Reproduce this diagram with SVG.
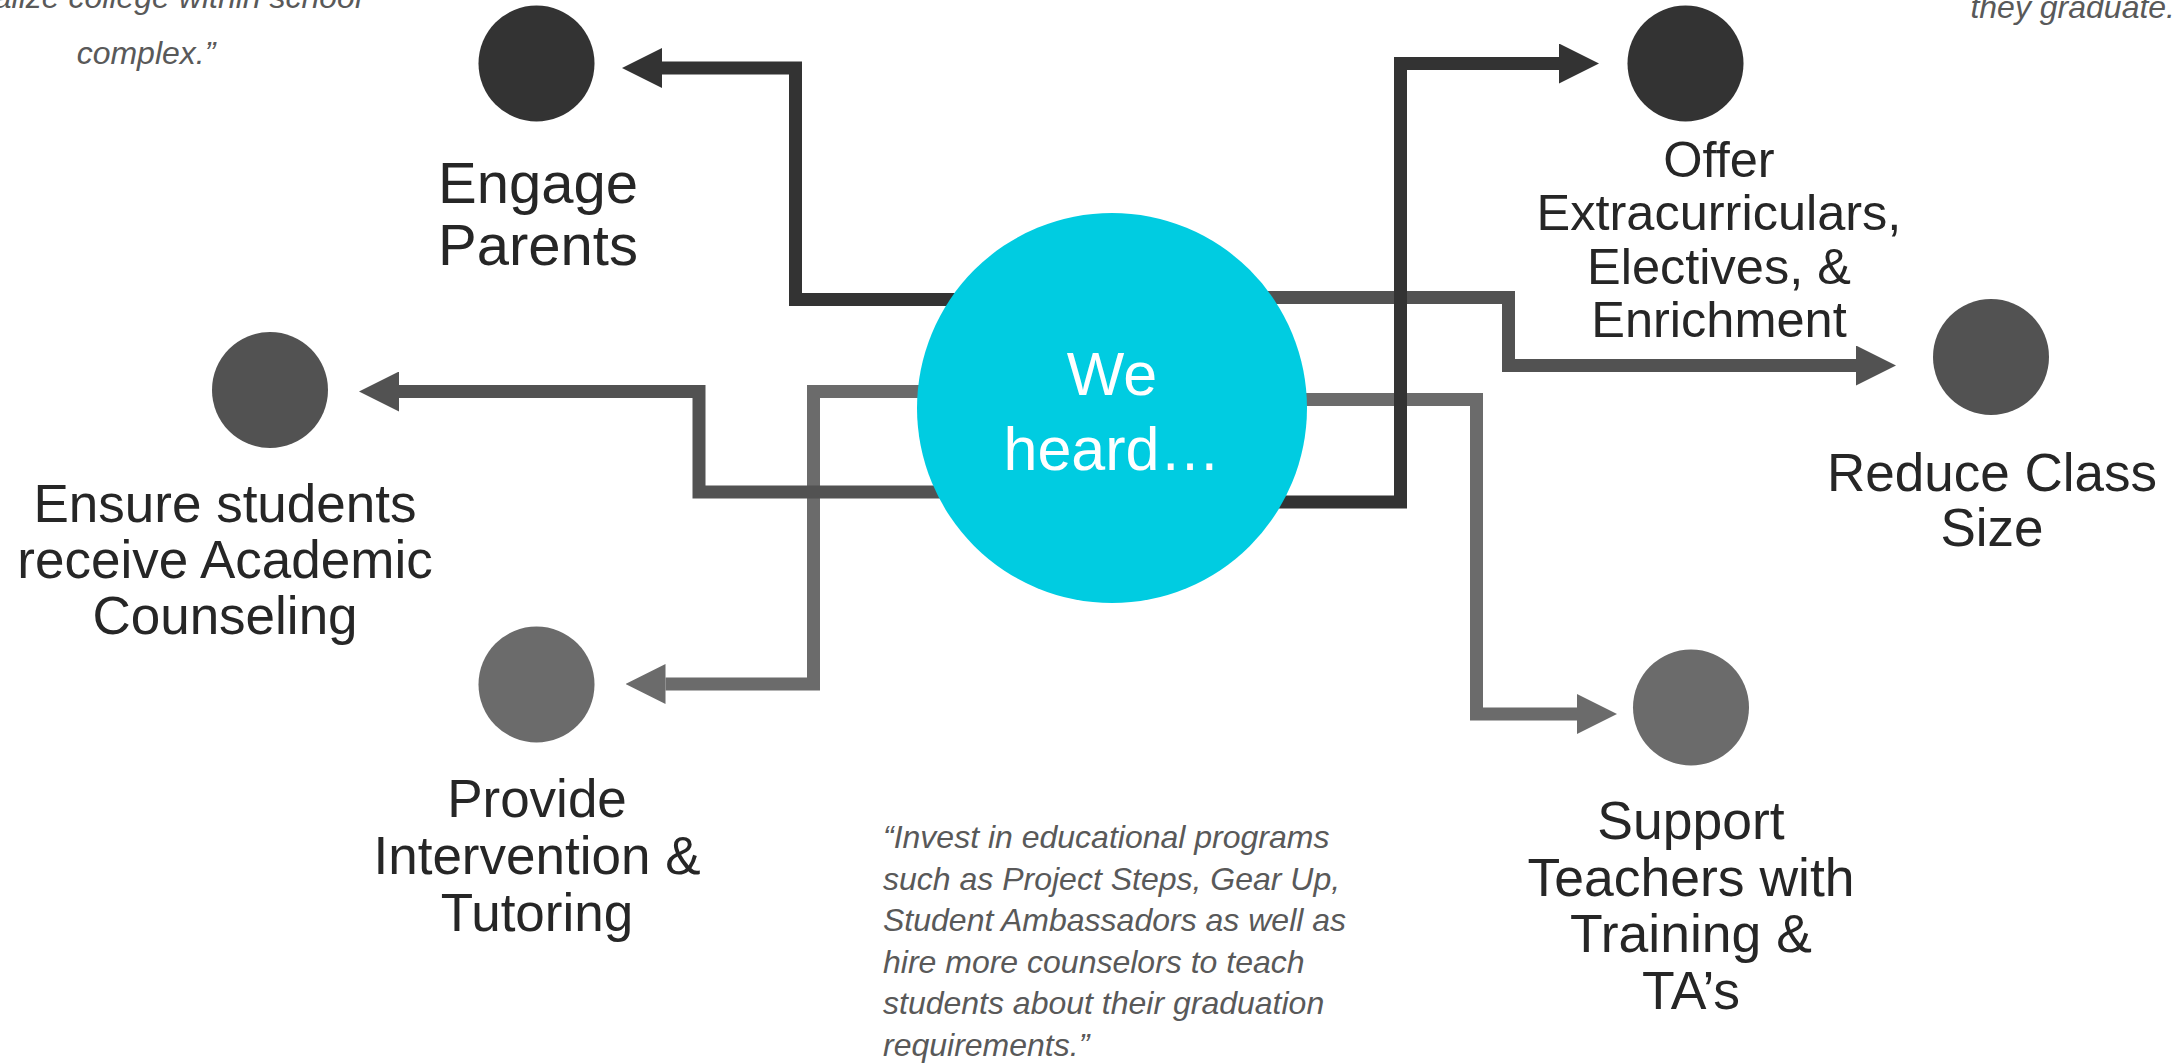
<svg xmlns="http://www.w3.org/2000/svg" width="2180" height="1064" viewBox="0 0 2180 1064">
<style>
.bg{fill:#ffffff}
.c1{fill:#333333}.c2{fill:#525252}.c3{fill:#6b6b6b}
.ln{fill:none;stroke-width:13;stroke-linejoin:miter;stroke-linecap:butt}
.s1{stroke:#333333}.s2{stroke:#525252}.s3{stroke:#6b6b6b}
.lbl{font-family:"Liberation Sans",Arial,sans-serif;fill:#262626;text-anchor:middle}
.q{font-family:"Liberation Sans",Arial,sans-serif;font-style:italic;font-size:32px;fill:#595959}
.hub{fill:#00CCE1}
.hubt{font-family:"Liberation Sans",Arial,sans-serif;font-size:61px;fill:#ffffff;text-anchor:middle}
</style>
<defs>
<marker id="a1" markerUnits="userSpaceOnUse" markerWidth="40" markerHeight="40" refX="0" refY="20" orient="auto"><path d="M0,0 L40,20 L0,40 Z" fill="#333333"/></marker>
<marker id="a2" markerUnits="userSpaceOnUse" markerWidth="40" markerHeight="40" refX="0" refY="20" orient="auto"><path d="M0,0 L40,20 L0,40 Z" fill="#525252"/></marker>
<marker id="a3" markerUnits="userSpaceOnUse" markerWidth="40" markerHeight="40" refX="0" refY="20" orient="auto"><path d="M0,0 L40,20 L0,40 Z" fill="#6b6b6b"/></marker>
</defs>
<rect class="bg" x="0" y="0" width="2180" height="1064"/>

<g id="quote-top-left">
<text class="q" x="362" y="8" text-anchor="end">alize college within school</text>
<text class="q" x="146" y="64" text-anchor="middle">complex.”</text>
</g>
<g id="quote-top-right">
<text class="q" x="2175" y="18" text-anchor="end">they graduate.</text>
</g>

<g id="connectors">
<path id="e-provide" class="ln s3" d="M1000,391.5 H813.5 V684 H665.5" marker-end="url(#a3)"/>
<path id="e-support" class="ln s3" d="M1200,399.5 H1476.5 V714 H1577" marker-end="url(#a3)"/>
<path id="e-reduce" class="ln s2" d="M1200,297.5 H1508.5 V365.5 H1856" marker-end="url(#a2)"/>
<path id="e-ensure" class="ln s2" d="M1000,492 H699 V391.5 H399" marker-end="url(#a2)"/>
<path id="e-engage" class="ln s1" d="M1000,299.5 H795.5 V68 H662" marker-end="url(#a1)"/>
<path id="e-offer" class="ln s1" d="M1200,502 H1400.5 V63.5 H1559" marker-end="url(#a1)"/>
</g>

<g id="hub">
<circle class="hub" cx="1112" cy="408" r="195"/>
<text class="hubt" x="1112" y="395">We</text>
<text class="hubt" x="1112" y="470">heard…</text>
</g>

<g id="node-engage">
<circle class="c1" cx="536.5" cy="63.5" r="58"/>
<text class="lbl" font-size="58" x="538" y="203">Engage</text>
<text class="lbl" font-size="58" x="538" y="265">Parents</text>
</g>

<g id="node-offer">
<circle class="c1" cx="1685.5" cy="63.5" r="58"/>
<text class="lbl" font-size="50.5" x="1719" y="177">Offer</text>
<text class="lbl" font-size="50.5" x="1719" y="230">Extracurriculars,</text>
<text class="lbl" font-size="50.5" x="1719" y="284">Electives, &amp;</text>
<text class="lbl" font-size="50.5" x="1719" y="337">Enrichment</text>
</g>

<g id="node-ensure">
<circle class="c2" cx="270" cy="390" r="58"/>
<text class="lbl" font-size="53" x="225" y="522">Ensure students</text>
<text class="lbl" font-size="53" x="225" y="578">receive Academic</text>
<text class="lbl" font-size="53" x="225" y="634">Counseling</text>
</g>

<g id="node-reduce">
<circle class="c2" cx="1991" cy="357" r="58"/>
<text class="lbl" font-size="53" x="1992" y="491">Reduce Class</text>
<text class="lbl" font-size="53" x="1992" y="546">Size</text>
</g>

<g id="node-provide">
<circle class="c3" cx="536.5" cy="684.5" r="58"/>
<text class="lbl" font-size="53" x="537" y="817">Provide</text>
<text class="lbl" font-size="53" x="537" y="874">Intervention &amp;</text>
<text class="lbl" font-size="53" x="537" y="931">Tutoring</text>
</g>

<g id="node-support">
<circle class="c3" cx="1691" cy="707.5" r="58"/>
<text class="lbl" font-size="53.5" x="1691" y="839">Support</text>
<text class="lbl" font-size="53.5" x="1691" y="895.5">Teachers with</text>
<text class="lbl" font-size="53.5" x="1691" y="952">Training &amp;</text>
<text class="lbl" font-size="53.5" x="1691" y="1008.5">TA’s</text>
</g>

<g id="quote-bottom">
<text class="q" x="883" y="848">“Invest in educational programs</text>
<text class="q" x="883" y="889.5">such as Project Steps, Gear Up,</text>
<text class="q" x="883" y="931">Student Ambassadors as well as</text>
<text class="q" x="883" y="972.5">hire more counselors to teach</text>
<text class="q" x="883" y="1014">students about their graduation</text>
<text class="q" x="883" y="1055.5">requirements.”</text>
</g>
</svg>
